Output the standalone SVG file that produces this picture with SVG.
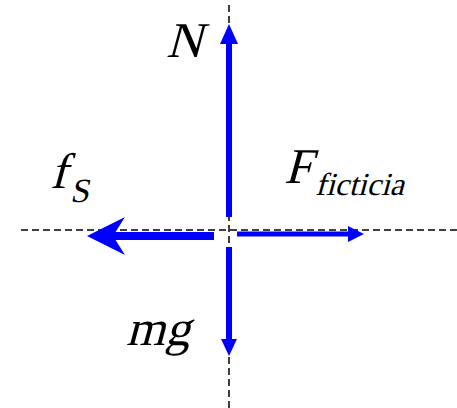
<svg xmlns="http://www.w3.org/2000/svg" width="457" height="408" viewBox="0 0 457 408">
<style>
.axis{stroke:#000;stroke-width:1.5;stroke-dasharray:7 4;fill:none}
.shaft{stroke:#0000ff;fill:none}
.head{fill:#0000ff;stroke:none}
.lbl{font-family:'Liberation Serif','Times New Roman',serif;font-style:normal;fill:#000}
</style>
<rect width="457" height="408" fill="#fff"/>
<g id="axes">
<line class="axis" x1="21" y1="230" x2="457" y2="230"/>
<line class="axis" x1="229" y1="5" x2="229" y2="408"/>
</g>
<g id="connectors">
<g id="arrow-N">
<line class="shaft" x1="229" y1="217" x2="229" y2="40" stroke-width="6"/>
<polygon class="head" points="229,24 238,44 220,44"/>
</g>
<g id="arrow-fs">
<line class="shaft" x1="214" y1="236" x2="105" y2="236" stroke-width="8"/>
<path class="head" d="M87,236 L125,217 L113,236 L125,255 Z"/>
</g>
<g id="arrow-F">
<line class="shaft" x1="237" y1="234" x2="350" y2="234" stroke-width="5"/>
<polygon class="head" points="364,234 348,226 348,242"/>
</g>
<g id="arrow-mg">
<line class="shaft" x1="229" y1="247" x2="229" y2="341" stroke-width="6"/>
<polygon class="head" points="229,356 221,339 237,339"/>
</g>
</g>
<g id="label-N"><text class="lbl" transform="translate(166,57) skewX(-15)" font-size="50">N</text></g>
<g id="label-fs"><text class="lbl" transform="translate(50,188) skewX(-15)" font-size="50">f</text><text class="lbl" transform="translate(70,202) skewX(-12)" font-size="34">S</text></g>
<g id="label-F"><text class="lbl" transform="translate(284,183) skewX(-15)" font-size="50">F</text><text class="lbl" transform="translate(315,195) skewX(-15)" font-size="32">ficticia</text></g>
<g id="label-mg"><text class="lbl" transform="translate(126,345) skewX(-15)" font-size="50">mg</text></g>
</svg>
